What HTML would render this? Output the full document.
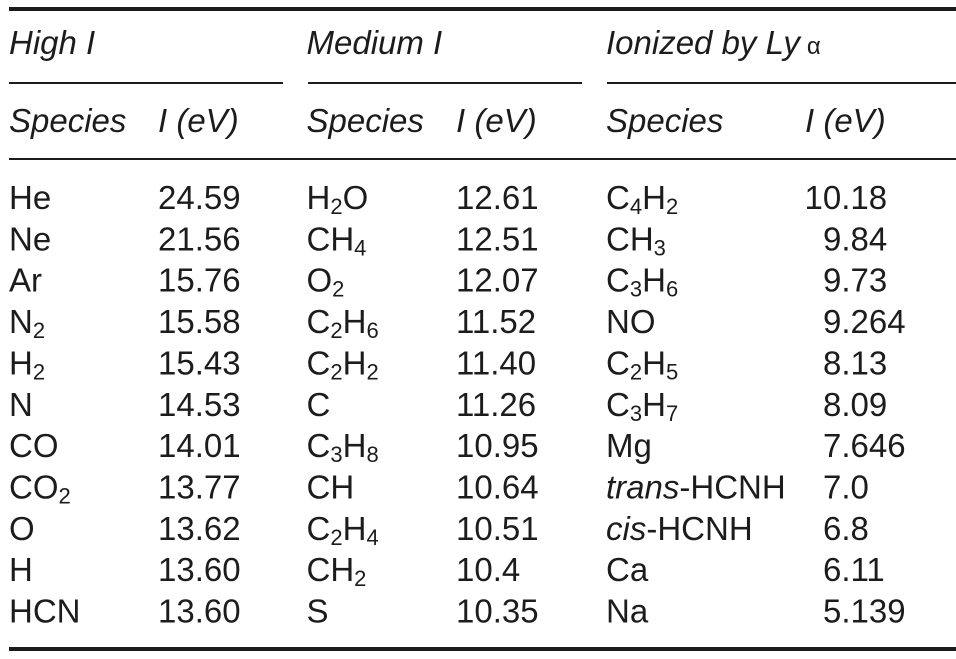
<!DOCTYPE html>
<html>
<head>
<meta charset="utf-8">
<style>
html,body{margin:0;padding:0;background:#fff;}
svg{display:block;}
text{font-family:"Liberation Sans",Arial,sans-serif;font-size:33px;fill:#1c1c1c;}
.i{font-style:italic;}
</style>
</head>
<body>
<svg width="956" height="659" viewBox="0 0 956 659" xmlns="http://www.w3.org/2000/svg">
<rect x="9" y="7" width="947" height="4" fill="#1c1c1c"/>
<rect x="9" y="82" width="274" height="2" fill="#1c1c1c"/>
<rect x="308" y="82" width="274" height="2" fill="#1c1c1c"/>
<rect x="607" y="82" width="349" height="2" fill="#1c1c1c"/>
<rect x="9" y="158" width="947" height="2" fill="#1c1c1c"/>
<rect x="9" y="647" width="947" height="4" fill="#1c1c1c"/>

<text class="i" x="9" y="54">High I</text>
<text class="i" x="306.5" y="54">Medium I</text>
<text x="606" y="54"><tspan class="i">Ionized by Ly</tspan><tspan font-size="24" dx="7">α</tspan></text>

<text class="i" x="9" y="132">Species</text>
<text class="i" x="158" y="132">I (eV)</text>
<text class="i" x="306.5" y="132">Species</text>
<text class="i" x="456" y="132">I (eV)</text>
<text class="i" x="606" y="132">Species</text>
<text class="i" x="805" y="132">I (eV)</text>

<!-- Column 1 -->
<text x="9" y="209">He</text><text x="158" y="209">24.59</text>
<text x="9" y="250.35">Ne</text><text x="158" y="250.35">21.56</text>
<text x="9" y="291.7">Ar</text><text x="158" y="291.7">15.76</text>
<text x="9" y="333.05">N<tspan font-size="22" dy="5">2</tspan></text><text x="158" y="333.05">15.58</text>
<text x="9" y="374.4">H<tspan font-size="22" dy="5">2</tspan></text><text x="158" y="374.4">15.43</text>
<text x="9" y="415.75">N</text><text x="158" y="415.75">14.53</text>
<text x="9" y="457.1">CO</text><text x="158" y="457.1">14.01</text>
<text x="9" y="498.45">CO<tspan font-size="22" dy="5">2</tspan></text><text x="158" y="498.45">13.77</text>
<text x="9" y="539.8">O</text><text x="158" y="539.8">13.62</text>
<text x="9" y="581.15">H</text><text x="158" y="581.15">13.60</text>
<text x="9" y="622.5">HCN</text><text x="158" y="622.5">13.60</text>

<!-- Column 2 -->
<text x="306.5" y="209">H<tspan font-size="22" dy="5">2</tspan><tspan dy="-5">O</tspan></text><text x="456" y="209">12.61</text>
<text x="306.5" y="250.35">CH<tspan font-size="22" dy="5">4</tspan></text><text x="456" y="250.35">12.51</text>
<text x="306.5" y="291.7">O<tspan font-size="22" dy="5">2</tspan></text><text x="456" y="291.7">12.07</text>
<text x="306.5" y="333.05">C<tspan font-size="22" dy="5">2</tspan><tspan dy="-5">H</tspan><tspan font-size="22" dy="5">6</tspan></text><text x="456" y="333.05">11.52</text>
<text x="306.5" y="374.4">C<tspan font-size="22" dy="5">2</tspan><tspan dy="-5">H</tspan><tspan font-size="22" dy="5">2</tspan></text><text x="456" y="374.4">11.40</text>
<text x="306.5" y="415.75">C</text><text x="456" y="415.75">11.26</text>
<text x="306.5" y="457.1">C<tspan font-size="22" dy="5">3</tspan><tspan dy="-5">H</tspan><tspan font-size="22" dy="5">8</tspan></text><text x="456" y="457.1">10.95</text>
<text x="306.5" y="498.45">CH</text><text x="456" y="498.45">10.64</text>
<text x="306.5" y="539.8">C<tspan font-size="22" dy="5">2</tspan><tspan dy="-5">H</tspan><tspan font-size="22" dy="5">4</tspan></text><text x="456" y="539.8">10.51</text>
<text x="306.5" y="581.15">CH<tspan font-size="22" dy="5">2</tspan></text><text x="456" y="581.15">10.4</text>
<text x="306.5" y="622.5">S</text><text x="456" y="622.5">10.35</text>

<!-- Column 3 -->
<text x="606" y="209">C<tspan font-size="22" dy="5">4</tspan><tspan dy="-5">H</tspan><tspan font-size="22" dy="5">2</tspan></text><text x="804.5" y="209">10.18</text>
<text x="606" y="250.35">CH<tspan font-size="22" dy="5">3</tspan></text><text x="823" y="250.35">9.84</text>
<text x="606" y="291.7">C<tspan font-size="22" dy="5">3</tspan><tspan dy="-5">H</tspan><tspan font-size="22" dy="5">6</tspan></text><text x="823" y="291.7">9.73</text>
<text x="606" y="333.05">NO</text><text x="823" y="333.05">9.264</text>
<text x="606" y="374.4">C<tspan font-size="22" dy="5">2</tspan><tspan dy="-5">H</tspan><tspan font-size="22" dy="5">5</tspan></text><text x="823" y="374.4">8.13</text>
<text x="606" y="415.75">C<tspan font-size="22" dy="5">3</tspan><tspan dy="-5">H</tspan><tspan font-size="22" dy="5">7</tspan></text><text x="823" y="415.75">8.09</text>
<text x="606" y="457.1">Mg</text><text x="823" y="457.1">7.646</text>
<text x="606" y="498.45"><tspan class="i">trans</tspan>-HCNH</text><text x="823" y="498.45">7.0</text>
<text x="606" y="539.8"><tspan class="i">cis</tspan>-HCNH</text><text x="823" y="539.8">6.8</text>
<text x="606" y="581.15">Ca</text><text x="823" y="581.15">6.11</text>
<text x="606" y="622.5">Na</text><text x="823" y="622.5">5.139</text>
</svg>
</body>
</html>
